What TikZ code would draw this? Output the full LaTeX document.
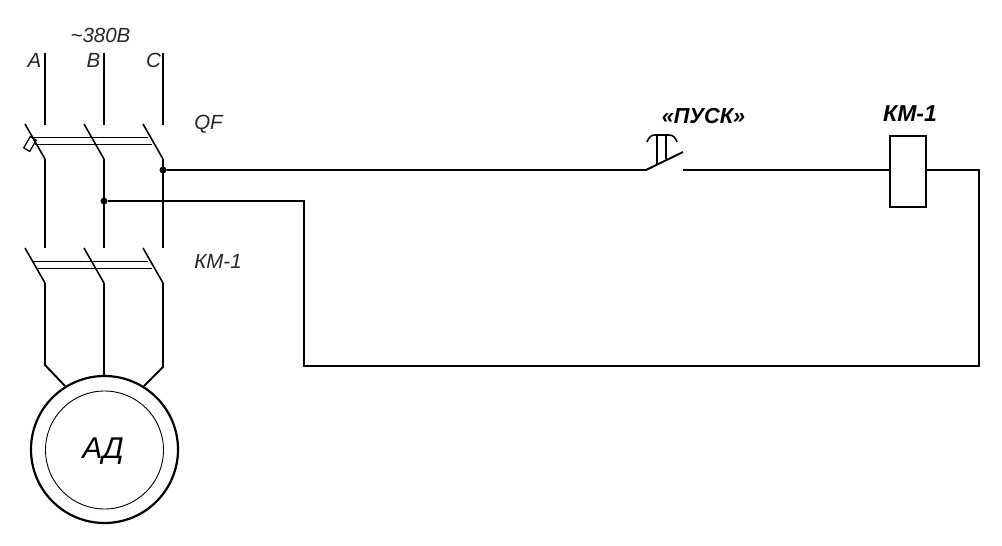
\documentclass[tikz,border=0pt]{standalone}
\usepackage{fontspec}
\setmainfont{Liberation Sans}
\begin{document}
\begin{tikzpicture}[x=1pt,y=-1pt,
  wire/.style={line width=1.9pt,line cap=butt,line join=miter},
  thin wire/.style={line width=0.9pt},
  dot/.style={circle,fill=black,inner sep=0pt,minimum size=7pt},
  lab/.style={font=\itshape\fontsize{20.5}{20}\selectfont,inner sep=0pt,text=black!85},
  blab/.style={font=\bfseries\itshape\fontsize{23}{24}\selectfont,inner sep=0pt}]
\useasboundingbox (0,0) rectangle (1002,546);
\fill[white] (0,0) rectangle (1002,546);
% named points
\foreach \n/\x in {A/45,B/104,C/163}{
  \coordinate (\n-top) at (\x,53);
  \coordinate (\n-qi) at (\x,125);
  \coordinate (\n-qb) at ({\x-20},124);
  \coordinate (\n-qo) at (\x,159);
  \coordinate (\n-ki) at (\x,248);
  \coordinate (\n-kb) at ({\x-20},248);
  \coordinate (\n-ko) at (\x,283);
}
\node[dot] (jC) at (163,170) {};
\node[dot] (jB) at (104,201) {};
\node[circle,draw,line width=2.2pt,minimum size=147pt,inner sep=0pt] (motor) at (104.5,449.5) {};
\node[circle,draw,line width=0.9pt,minimum size=118pt,inner sep=0pt] (inner) at (104.5,450) {};
\node[font=\itshape\fontsize{30}{30}\selectfont,inner sep=0pt] (ad) at (103,451.5) {АД};
\node[draw,line width=1.9pt,minimum width=36pt,minimum height=71pt,inner sep=0pt] (coil) at (908,171.5) {};
\coordinate (s1) at (646,170);
\coordinate (s2) at (683,152);
\coordinate (s3) at (683,170);
\coordinate (r1) at (979,170);
\coordinate (r2) at (979,366);
\coordinate (r3) at (304,366);
\coordinate (r4) at (304,201);
\coordinate (mA) at (45,365);
\coordinate (mC) at (163,367);
\coordinate (mAe) at (65,386);
\coordinate (mCe) at (144,386);
\coordinate (mBe) at (104,376);
% phases
\foreach \n in {A,B,C}{
  \draw[wire] (\n-top) -- (\n-qi);
  \draw[wire,line width=1.6pt] (\n-qb) -- (\n-qo);
  \draw[wire] (\n-qo) -- (\n-ki);
  \draw[wire,line width=1.6pt] (\n-kb) -- (\n-ko);
}
\draw[wire] (A-ko) -- (mA) -- (mAe);
\draw[wire] (B-ko) -- (mBe);
\draw[wire] (C-ko) -- (mC) -- (mCe);
% ganged links
\draw[thin wire] (33,137.3) -- (148,137.3);
\draw[thin wire] (35,144.3) -- (152,144.3);
\draw[thin wire] (33,261.7) -- (148,261.7);
\draw[thin wire] (38,268.3) -- (152,268.3);
\draw[line width=1.2pt,rotate around={60:(30,144)}] (23.5,140.5) rectangle (36.5,147.5);
% control circuit
\draw[wire] (jC) -- (s1) -- (s2);
\draw[wire] (s3) -- (coil.west |- s3);
\draw[wire] (coil.east |- r1) -- (r1) -- (r2) -- (r3) -- (r4) -- (jB);
% push button
\coordinate (b1) at (657,135);
\coordinate (b2) at (666,135);
\draw[line width=1.5pt] (b1) -- (657,164);
\draw[line width=1.5pt] (b2) -- (666,159);
\draw[line width=1.6pt] (647,142) .. controls (649,137) and (651,135) .. (655,135) -- (669,135) .. controls (673,135) and (675,137) .. (677,142);
% labels
\node[lab] (v) at (100.5,35) {\textasciitilde380В};
\node[lab] (la) at (34.5,60) {А};
\node[lab] (lb) at (93.5,60) {В};
\node[lab] (lc) at (153.5,60) {С};
\node[lab] (qf) at (208.5,124) {QF};
\node[lab] (km) at (218,261) {КМ-1};
\node[blab,font=\bfseries\itshape\fontsize{21.7}{24}\selectfont] (pusk) at (703.5,116) {«ПУСК»};
\node[blab] (kmb) at (910,114) {КМ-1};
\end{tikzpicture}
\end{document}
